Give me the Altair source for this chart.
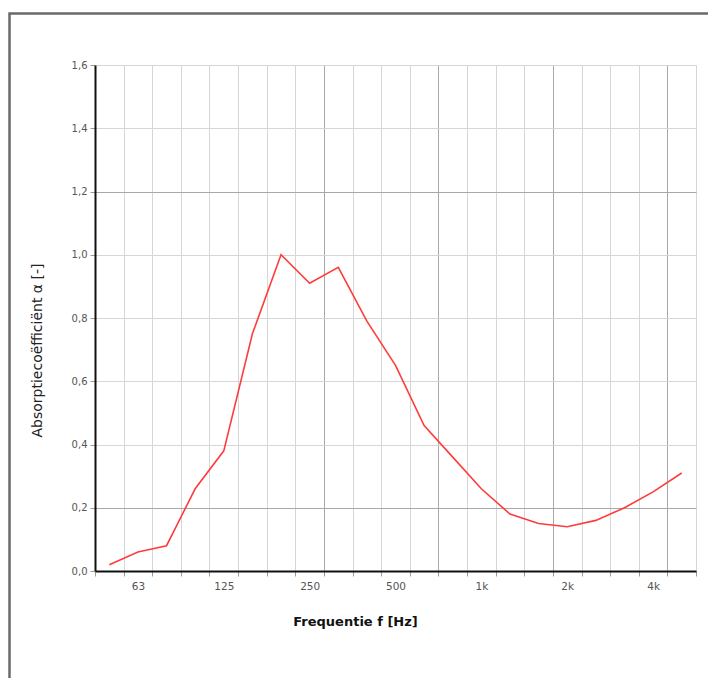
import altair as alt
import pandas as pd

# Third-octave band centre frequencies (Hz) and absorption coefficients
bands = ["50", "63", "80", "100", "125", "160", "200", "250", "315", "400", "500",
         "630", "800", "1000", "1250", "1600", "2000", "2500", "3150", "4000", "5000"]
alpha = [0.02, 0.06, 0.08, 0.26, 0.38, 0.75, 1.00, 0.91, 0.96, 0.79, 0.65,
         0.46, 0.36, 0.26, 0.18, 0.15, 0.14, 0.16, 0.20, 0.25, 0.31]
x_tick_labels = {"63": "63", "125": "125", "250": "250", "500": "500",
                 "1000": "1k", "2000": "2k", "4000": "4k"}
y_ticks = [0.0, 0.2, 0.4, 0.6, 0.8, 1.0, 1.2, 1.4, 1.6]

df = pd.DataFrame({"band": bands, "idx": list(range(len(bands))), "alpha": alpha})

# band edges (grid lines) and labels shown at the band centre next to each edge
edges = [i - 0.5 for i in range(len(bands) + 1)]
label_arr = [x_tick_labels.get(b, "") for b in bands] + [""]
label_expr = "[" + ",".join("'%s'" % s for s in label_arr) + "][datum.value + 0.5]"

W, H = 601, 506
half_band = W / len(bands) / 2

FONT = "DejaVu Sans"

line = alt.Chart(df).mark_line(color="#ff3c3c", strokeWidth=1.6).encode(
    x=alt.X("idx:Q",
            scale=alt.Scale(domain=[-0.5, len(bands) - 0.5], nice=False, zero=False),
            axis=alt.Axis(values=edges, labelExpr=label_expr, labelOffset=half_band,
                          labelOverlap=False, labelFlush=False, labelBound=False,
                          grid=True,
                          gridColor=alt.condition("indexof([7.5,11.5,15.5,19.5], datum.value) >= 0",
                                                  alt.value("#a8a8a8"), alt.value("#d6d6d6")),
                          gridWidth=1,
                          ticks=True, tickSize=5, tickColor="#9a9a9a",
                          domain=True, domainColor="#111111", domainWidth=2,
                          labelFont=FONT, labelFontSize=10.5, labelColor="#555555",
                          labelPadding=5,
                          title="Frequentie f [Hz]", titleFont=FONT, titleFontSize=13,
                          titleFontWeight="bold", titleColor="#111111",
                          titleX=260, titleY=44, titleAlign="center",
                          titleBaseline="top")),
    y=alt.Y("alpha:Q",
            scale=alt.Scale(domain=[0, 1.6], nice=False, zero=True),
            axis=alt.Axis(values=y_ticks, format=".1f",
                          labelExpr="replace(format(datum.value, '.1f'), '.', ',')",
                          grid=True,
                          gridColor=alt.condition("abs(datum.value - 1.2) < 0.01 || abs(datum.value - 0.2) < 0.01",
                                                  alt.value("#a8a8a8"), alt.value("#d6d6d6")),
                          gridWidth=1,
                          ticks=True, tickSize=5, tickColor="#9a9a9a",
                          domain=True, domainColor="#111111", domainWidth=2,
                          labelFont=FONT, labelFontSize=10, labelColor="#555555",
                          labelPadding=3,
                          title="Absorptiecoëfficiënt α [-]", titleFont=FONT,
                          titleFontSize=14, titleFontWeight="normal",
                          titleColor="#222222", titleX=-58, titleY=285,
                          titleAngle=270, titleAlign="center",
                          titleBaseline="middle")),
    order="idx:Q",
)

frame = alt.Chart(pd.DataFrame({"a": [0]})).mark_rect(
    fillOpacity=0, stroke="#6a6a6a", strokeWidth=2.5
).encode(
    x=alt.value(-85.5), x2=alt.value(700),
    y=alt.value(-51.5), y2=alt.value(700),
)

chart = alt.layer(frame, line).properties(
    width=W, height=H,
    padding={"left": 87, "top": 57, "right": 12, "bottom": 107},
    autosize=alt.AutoSizeParams(type="none"),
    background="white",
).configure_view(stroke=None)

chart.save("out.html", embed_options={"renderer": "svg", "actions": False})
